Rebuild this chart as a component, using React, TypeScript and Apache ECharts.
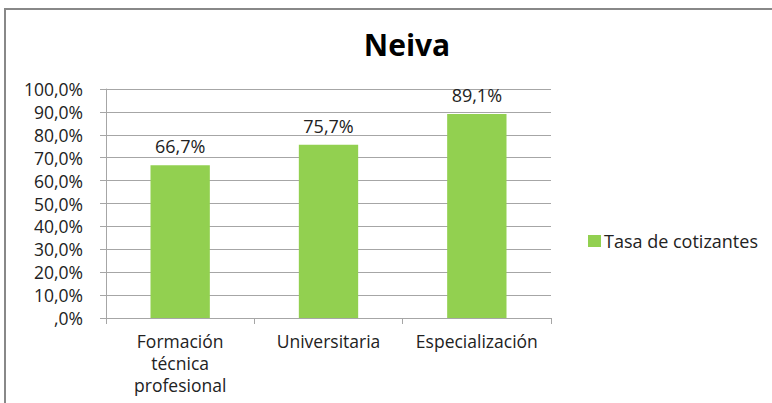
import React, { useEffect, useRef } from "react";
import * as echarts from "echarts";

const categories = ["Formación\ntécnica\nprofesional", "Universitaria", "Especialización"];
const values = [66.7, 75.7, 89.1];
const seriesName = "Tasa de cotizantes";
const title = "Neiva";

const fmt = (v: number) => {
  const s = v.toFixed(1).replace(".", ",");
  return (s.startsWith("0,") ? s.slice(1) : s) + "%";
};

export default function App() {
  const ref = useRef<HTMLDivElement>(null);
  useEffect(() => {
    const chart = echarts.init(ref.current!, null, { renderer: "svg" });
    const font = "'Open Sans', 'Noto Sans', sans-serif";
    chart.setOption({
      animation: false,
      backgroundColor: "#ffffff",
      title: {
        text: title,
        left: 402,
        top: 24,
        textAlign: "center",
        textStyle: { fontSize: 30, fontWeight: "bold", color: "#000", fontFamily: font },
      },
      graphic: [
        {
          type: "rect",
          shape: { x: 5, y: 9, width: 790, height: 420 },
          style: { fill: "none", stroke: "#888888", lineWidth: 2 },
          silent: true,
        },
      ],
      legend: {
        left: 583,
        top: 227,
        itemWidth: 13,
        itemHeight: 12,
        itemGap: 4,
        data: [seriesName],
        textStyle: { fontSize: 18, color: "#222", fontFamily: font, padding: [0, 0, 0, -2] },
        icon: "rect",
      },
      grid: { left: 106, right: 221, top: 89, bottom: 85 },
      xAxis: {
        type: "category",
        data: categories,
        axisLine: { lineStyle: { color: "#a6a6a6" } },
        axisTick: { show: true, length: 6, lineStyle: { color: "#a6a6a6" } },
        axisLabel: {
          fontSize: 17.5,
          color: "#222",
          fontFamily: font,
          lineHeight: 22,
          margin: 12,
          interval: 0,
        },
      },
      yAxis: {
        type: "value",
        min: 0,
        max: 100,
        interval: 10,
        axisLine: { show: true, lineStyle: { color: "#a6a6a6" } },
        axisTick: { show: true, length: 6, lineStyle: { color: "#a6a6a6" } },
        splitLine: { lineStyle: { color: "#a6a6a6" } },
        axisLabel: {
          fontSize: 17.5,
          color: "#222",
          fontFamily: font,
          margin: 23,
          formatter: (v: number) => fmt(v),
        },
      },
      series: [
        {
          name: seriesName,
          type: "bar",
          data: values,
          barWidth: "40%",
          itemStyle: { color: "#92d050" },
          label: {
            show: true,
            position: "top",
            distance: 10,
            fontSize: 18,
            color: "#222",
            fontFamily: font,
            formatter: (p: any) => fmt(p.value),
          },
        },
      ],
    });
    return () => chart.dispose();
  }, []);
  return (
    <div
      ref={ref}
      style={{ position: "fixed", left: 0, top: 0, width: 772, height: 403 }}
    />
  );
}
